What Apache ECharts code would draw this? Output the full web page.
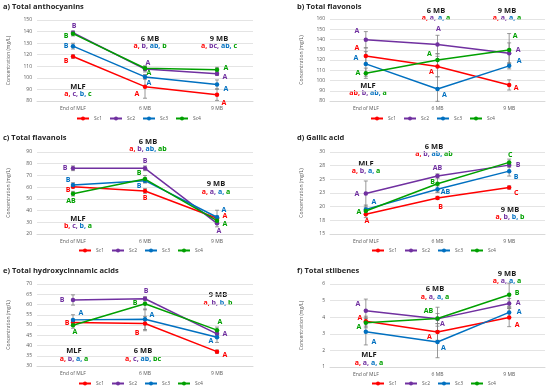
<!DOCTYPE html>
<html><head><meta charset="utf-8">
<script src="https://cdn.jsdelivr.net/npm/echarts@6/dist/echarts.min.js"></script>
<style>html,body{margin:0;padding:0;background:#fff}#c{width:550px;height:391px}</style>
</head><body><div id="c"></div>
<script>
// ---------- DATA ----------
const categories = ['End of MLF', '6 MB', '9 MB'];
const seriesNames = ['Sc1', 'Sc2', 'Sc3', 'Sc4'];

// a) Total anthocyanins
const anthoValues = [[118.4, 92.4, 85.5], [139.0, 107.6, 103.5], [127.4, 100.8, 94.2], [138.2, 108.3, 107.1]];
const anthoSD = [[1.5, 10, 5], [1.5, 2.5, 1.5], [2.5, 2, 4], [2, 2, 2]];
const anthoLetters = [['B', 'A', 'A'], ['B', 'A', 'A'], ['B', 'A', 'A'], ['B', 'A', 'A']];
const anthoGroups = [['MLF', ['a', 'c', 'b', 'c']], ['6 MB', ['a', 'b', 'ab', 'b']], ['9 MB', ['a', 'bc', 'ab', 'c']]];

// b) Total flavonols
const flavonolValues = [[124.0, 113.6, 95.7], [139.7, 135.1, 126.7], [116.2, 91.7, 114.3], [107.1, 120.1, 129.8]];
const flavonolSD = [[8, 10, 5], [8, 9, 10], [12, 12, 3], [5, 6, 16]];
const flavonolLetters = [['A', 'A', 'A'], ['A', 'A', 'A'], ['A', 'A', 'A'], ['A', 'A', 'A']];
const flavonolGroups = [['MLF', ['ab', 'b', 'ab', 'a']], ['6 MB', ['a', 'a', 'a', 'a']], ['9 MB', ['a', 'a', 'a', 'a']]];

// c) Total flavanols
const flavanolValues = [[60.4, 56.7, 33.4], [76.1, 76.1, 29.1], [61.8, 65.5, 34.3], [54.4, 66.9, 31.4]];
const flavanolSD = [[1, 2, 2], [2, 2, 3], [2, 2, 6], [2, 3, 2]];
const flavanolLetters = [['B', 'B', 'A'], ['B', 'B', 'A'], ['B', 'B', 'A'], ['AB', 'B', 'A']];
const flavanolGroups = [['MLF', ['b', 'c', 'b', 'a']], ['6 MB', ['a', 'b', 'ab', 'ab']], ['9 MB', ['a', 'a', 'a', 'a']]];

// d) Gallic acid
const gallicValues = [[18.6, 21.6, 23.5], [22.4, 25.6, 27.6], [19.5, 23.2, 26.5], [19.2, 24.2, 28.1]];
const gallicSD = [[0.6, 0.3, 0.3], [2.3, 0.4, 0.4], [0.8, 0.6, 0.9], [0.6, 1.5, 0.6]];
const gallicLetters = [['A', 'B', 'C'], ['A', 'AB', 'B'], ['A', 'AB', 'B'], ['A', 'B', 'C']];
const gallicGroups = [['MLF', ['a', 'b', 'a', 'a']], ['6 MB', ['a', 'b', 'ab', 'ab']], ['9 MB', ['a', 'b', 'b', 'b']]];

// e) Total hydroxycinnamic acids
const hcaValues = [[51.2, 50.7, 37.0], [62.2, 62.8, 45.7], [52.5, 52.8, 44.0], [49.9, 60.4, 47.5]];
const hcaSD = [[1, 3.5, 0.8], [2.5, 1, 1], [2.5, 5, 2.5], [1.5, 3, 1.5]];
const hcaLetters = [['B', 'B', 'A'], ['B', 'B', 'A'], ['A', 'A', 'A'], ['A', 'B', 'A']];
const hcaGroups = [['MLF', ['a', 'b', 'a', 'a']], ['6 MB', ['a', 'c', 'ab', 'bc']], ['9 MB', ['a', 'b', 'b', 'b']]];

// f) Total stilbenes
const stilbeneValues = [[3.76, 3.11, 3.98], [4.39, 3.90, 4.83], [3.13, 2.51, 4.29], [3.66, 3.92, 5.35]];
const stilbeneSD = [[0.3, 0.5, 0.55], [0.7, 0.7, 0.3], [0.8, 0.95, 0.3], [0.3, 0.3, 0.7]];
const stilbeneLetters = [['A', 'A', 'A'], ['A', 'A', 'A'], ['A', 'A', 'A'], ['A', 'AB', 'B']];
const stilbeneGroups = [['MLF', ['a', 'a', 'a', 'a']], ['6 MB', ['a', 'a', 'a', 'a']], ['9 MB', ['a', 'a', 'a', 'a']]];

// ---------- STYLE / LAYOUT ----------
const colors = ['#FF0000', '#7030A0', '#0070C0', '#00A000'];
const panels = [
  { title: 'a) Total anthocyanins', tx: 3, ty: 3, grid: { left: 37, right: 297, top: 20, bottom: 290 }, min: 80, max: 150, interval: 10,
    values: anthoValues, sd: anthoSD, letters: anthoLetters, groups: anthoGroups, legend: { left: 76, top: 116 },
    offsets: [[[-7, 4], [-8, 7], [7, 8]], [[1, -7], [3, -6], [8, 3]], [[-7, 0], [4, 6], [9, 4]], [[-7, 2], [4, 5], [9, -2]]],
    groupPos: [[78, 86.5, 93.5], [150, 39, 45.5], [219, 39, 45.5]] },
  { title: 'b) Total flavonols', tx: 297, ty: 3, grid: { left: 330, right: 5, top: 19, bottom: 290 }, min: 80, max: 160, interval: 10,
    values: flavonolValues, sd: flavonolSD, letters: flavonolLetters, groups: flavonolGroups, legend: { left: 370, top: 116 },
    offsets: [[[-9, -8], [-6, 5], [7, 3]], [[-9, -9], [1, -16], [9, -3]], [[-10, -6], [7, 6], [10, -5]], [[-8, 0], [-8, -6], [6, -14]]],
    groupPos: [[368, 85.5, 93], [436, 10.5, 18], [507, 10.5, 18]] },
  { title: 'c) Total flavanols', tx: 3, ty: 134, grid: { left: 37, right: 297, top: 152, bottom: 157 }, min: 20, max: 90, interval: 10,
    values: flavanolValues, sd: flavanolSD, letters: flavanolLetters, groups: flavanolGroups, legend: { left: 78, top: 248 },
    offsets: [[[-5, 3], [0, 7], [8, -2]], [[-8, 0], [0, -7], [2, 8]], [[-5, -5], [-6, 5], [7, -7]], [[-2, 7], [-6, -6], [8, 3]]],
    groupPos: [[78, 219, 226], [148, 142, 149], [216, 184, 192]] },
  { title: 'd) Gallic acid', tx: 297, ty: 134, grid: { left: 330, right: 5, top: 152, bottom: 157 }, min: 15, max: 30, interval: 2.5,
    values: gallicValues, sd: gallicSD, letters: gallicLetters, groups: gallicGroups, legend: { left: 371, top: 248 }, round: true,
    offsets: [[[1, 7], [3, 9], [7, 5]], [[-9, 0], [0, -8], [9, 0]], [[8, -7], [8, 3], [7, 6]], [[-7, 1], [-5, -2], [1, -7]]],
    groupPos: [[366, 163.5, 170.5], [434, 147, 154], [510, 210, 217]] },
  { title: 'e) Total hydroxycinnamic acids', tx: 3, ty: 267, grid: { left: 37, right: 297, top: 284, bottom: 25 }, min: 30, max: 70, interval: 5,
    values: hcaValues, sd: hcaSD, letters: hcaLetters, groups: hcaGroups, legend: { left: 78, top: 381 },
    offsets: [[[-6, 0], [-8, 9], [8, 3]], [[-11, 0], [1, -8], [8, 0]], [[8, -7], [7, -4], [-6, 4]], [[2, 7], [-10, -1], [3, -8]]],
    groupPos: [[74, 351, 359], [143, 351, 359], [218, 295, 303]] },
  { title: 'f) Total stilbenes', tx: 297, ty: 267, grid: { left: 330, right: 5, top: 284, bottom: 24 }, min: 1, max: 6, interval: 1,
    values: stilbeneValues, sd: stilbeneSD, letters: stilbeneLetters, groups: stilbeneGroups, legend: { left: 371, top: 381 },
    offsets: [[[-6, -3], [-8, 5], [8, 7]], [[-8, -7], [5, 5], [9, 0]], [[8, 10], [6, 6], [10, 0]], [[-7, 4], [-9, -8], [8, -2]]],
    groupPos: [[369, 355, 363], [435, 289, 297], [507, 274, 281]] }
];

const FONT = 'Open Sans, Liberation Sans, sans-serif';
const option = {
  animation: false,
  color: colors,
  textStyle: { fontFamily: FONT },
  title: [], grid: [], xAxis: [], yAxis: [], legend: [], series: [], graphic: []
};

const rich = { };
colors.forEach((c, i) => { rich['c' + i] = { fill: c, fontSize: 7, fontWeight: 'bold', fontFamily: FONT, lineHeight: 8 }; });

panels.forEach((p, pi) => {
  option.title.push({ text: p.title, left: p.tx, top: p.ty, padding: 0,
    textStyle: { fontSize: 7.5, fontWeight: 'bold', color: '#262626', fontFamily: FONT } });
  option.grid.push(Object.assign({ containLabel: false }, p.grid));
  option.xAxis.push({ type: 'category', gridIndex: pi, data: categories, boundaryGap: true,
    axisLine: { lineStyle: { color: '#d9d9d9' } }, axisTick: { show: false },
    axisLabel: { fontSize: 5, color: '#595959', margin: 5 } });
  option.yAxis.push({ type: 'value', gridIndex: pi, min: p.min, max: p.max, interval: p.interval,
    name: 'Concentration (mg/L)', nameLocation: 'middle', nameGap: 26, nameRotate: 90,
    nameTextStyle: { fontSize: 5, color: '#595959' },
    axisLine: { show: false }, axisTick: { show: false },
    axisLabel: { fontSize: 5, color: '#595959', margin: 5, formatter: p.round ? (v => Math.round(v)) : (v => v) },
    splitLine: { lineStyle: { color: '#d9d9d9', width: 0.7 } } });
  option.legend.push({ data: seriesNames, left: p.legend.left, top: p.legend.top, padding: 0,
    itemWidth: 12, itemHeight: 5, itemGap: 7, textStyle: { fontSize: 5, color: '#595959' } });

  p.values.forEach((vals, si) => {
    // lines with letters (first, so the legend picks its style)
    option.series.push({
      type: 'line', name: seriesNames[si], xAxisIndex: pi, yAxisIndex: pi, z: 3,
      symbol: 'circle', symbolSize: 4.5, color: colors[si],
      lineStyle: { width: 1.5, color: colors[si] }, itemStyle: { color: colors[si] },
      data: vals.map((v, k) => ({ value: v, label: { show: true, formatter: p.letters[si][k], position: 'inside',
        offset: p.offsets[si][k], color: colors[si], fontSize: 7, fontWeight: 'bold', fontFamily: FONT } }))
    });
    // error bars
    option.series.push({
      type: 'custom', name: seriesNames[si], xAxisIndex: pi, yAxisIndex: pi, z: 1, silent: true,
      itemStyle: { color: colors[si] },
      data: vals.map((v, k) => [k, v - p.sd[si][k], v + p.sd[si][k]]),
      renderItem: function (params, api) {
        const x = api.value(0);
        const lo = api.coord([x, api.value(1)]);
        const hi = api.coord([x, api.value(2)]);
        const w = 2;
        const st = { stroke: '#7f7f7f', lineWidth: 0.8 };
        return { type: 'group', children: [
          { type: 'line', shape: { x1: lo[0], y1: lo[1], x2: hi[0], y2: hi[1] }, style: st },
          { type: 'line', shape: { x1: lo[0] - w, y1: lo[1], x2: lo[0] + w, y2: lo[1] }, style: st },
          { type: 'line', shape: { x1: hi[0] - w, y1: hi[1], x2: hi[0] + w, y2: hi[1] }, style: st }
        ] };
      }
    });
  });

  // group annotation texts
  p.groups.forEach((g, gi) => {
    const pos = p.groupPos[gi];
    option.graphic.push({ type: 'text', x: pos[0], y: pos[1], silent: true,
      style: { text: g[0], fill: '#1a1a1a', font: 'bold 7.5px ' + FONT, align: 'center', verticalAlign: 'middle' } });
    const parts = g[1].map((t, i) => '{c' + i + '|' + t + (i < g[1].length - 1 ? ', ' : '') + '}').join('');
    option.graphic.push({ type: 'text', x: pos[0], y: pos[2], silent: true,
      style: { text: parts, rich: rich, align: 'center', verticalAlign: 'middle' } });
  });
});

const chart = echarts.init(document.getElementById('c'), null, { renderer: 'canvas' });
chart.setOption(option);
</script>
</body></html>
